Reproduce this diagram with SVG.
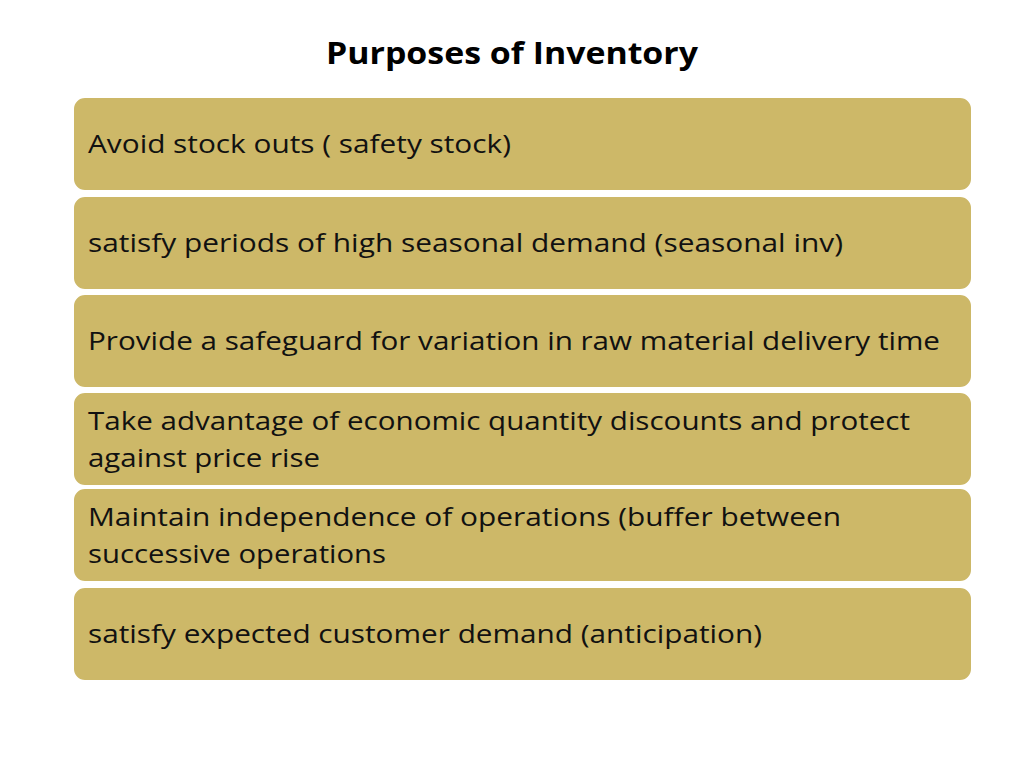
<svg xmlns="http://www.w3.org/2000/svg" width="1024" height="768" viewBox="0 0 1024 768">
<style>
.b{fill:#CDB868;stroke:#fff;stroke-width:2}
.t{font-family:"Open Sans","Liberation Sans",sans-serif;font-size:26px;fill:#111}
.h{font-family:"Open Sans","Liberation Sans",sans-serif;font-size:30px;font-weight:bold;fill:#000}
</style>
<rect width="1024" height="768" fill="#fff"/>
<text class="h" x="512" y="64" text-anchor="middle" textLength="372" lengthAdjust="spacingAndGlyphs">Purposes of Inventory</text>
<g id="n1"><rect class="b" x="73" y="97" width="899" height="94" rx="12"/><text class="t" x="88" y="153" textLength="423" lengthAdjust="spacingAndGlyphs">Avoid stock outs ( safety stock)</text></g>
<g id="n2"><rect class="b" x="73" y="196" width="899" height="94" rx="12"/><text class="t" x="88" y="252" textLength="755" lengthAdjust="spacingAndGlyphs">satisfy periods of high seasonal demand  (seasonal inv)</text></g>
<g id="n3"><rect class="b" x="73" y="294" width="899" height="94" rx="12"/><text class="t" x="88" y="350" textLength="852" lengthAdjust="spacingAndGlyphs">Provide a safeguard for variation in raw material delivery time</text></g>
<g id="n4"><rect class="b" x="73" y="392" width="899" height="94" rx="12"/><text class="t" x="88" y="430" textLength="822" lengthAdjust="spacingAndGlyphs">Take advantage of economic quantity discounts and protect</text><text class="t" x="88" y="467" textLength="232" lengthAdjust="spacingAndGlyphs">against price rise</text></g>
<g id="n5"><rect class="b" x="73" y="488" width="899" height="94" rx="12"/><text class="t" x="88" y="526" textLength="753" lengthAdjust="spacingAndGlyphs">Maintain independence of operations (buffer between</text><text class="t" x="88" y="563" textLength="298" lengthAdjust="spacingAndGlyphs">successive operations</text></g>
<g id="n6"><rect class="b" x="73" y="587" width="899" height="94" rx="12"/><text class="t" x="88" y="643" textLength="674" lengthAdjust="spacingAndGlyphs">satisfy expected customer demand (anticipation)</text></g>
<g id="connectors"/>
</svg>
